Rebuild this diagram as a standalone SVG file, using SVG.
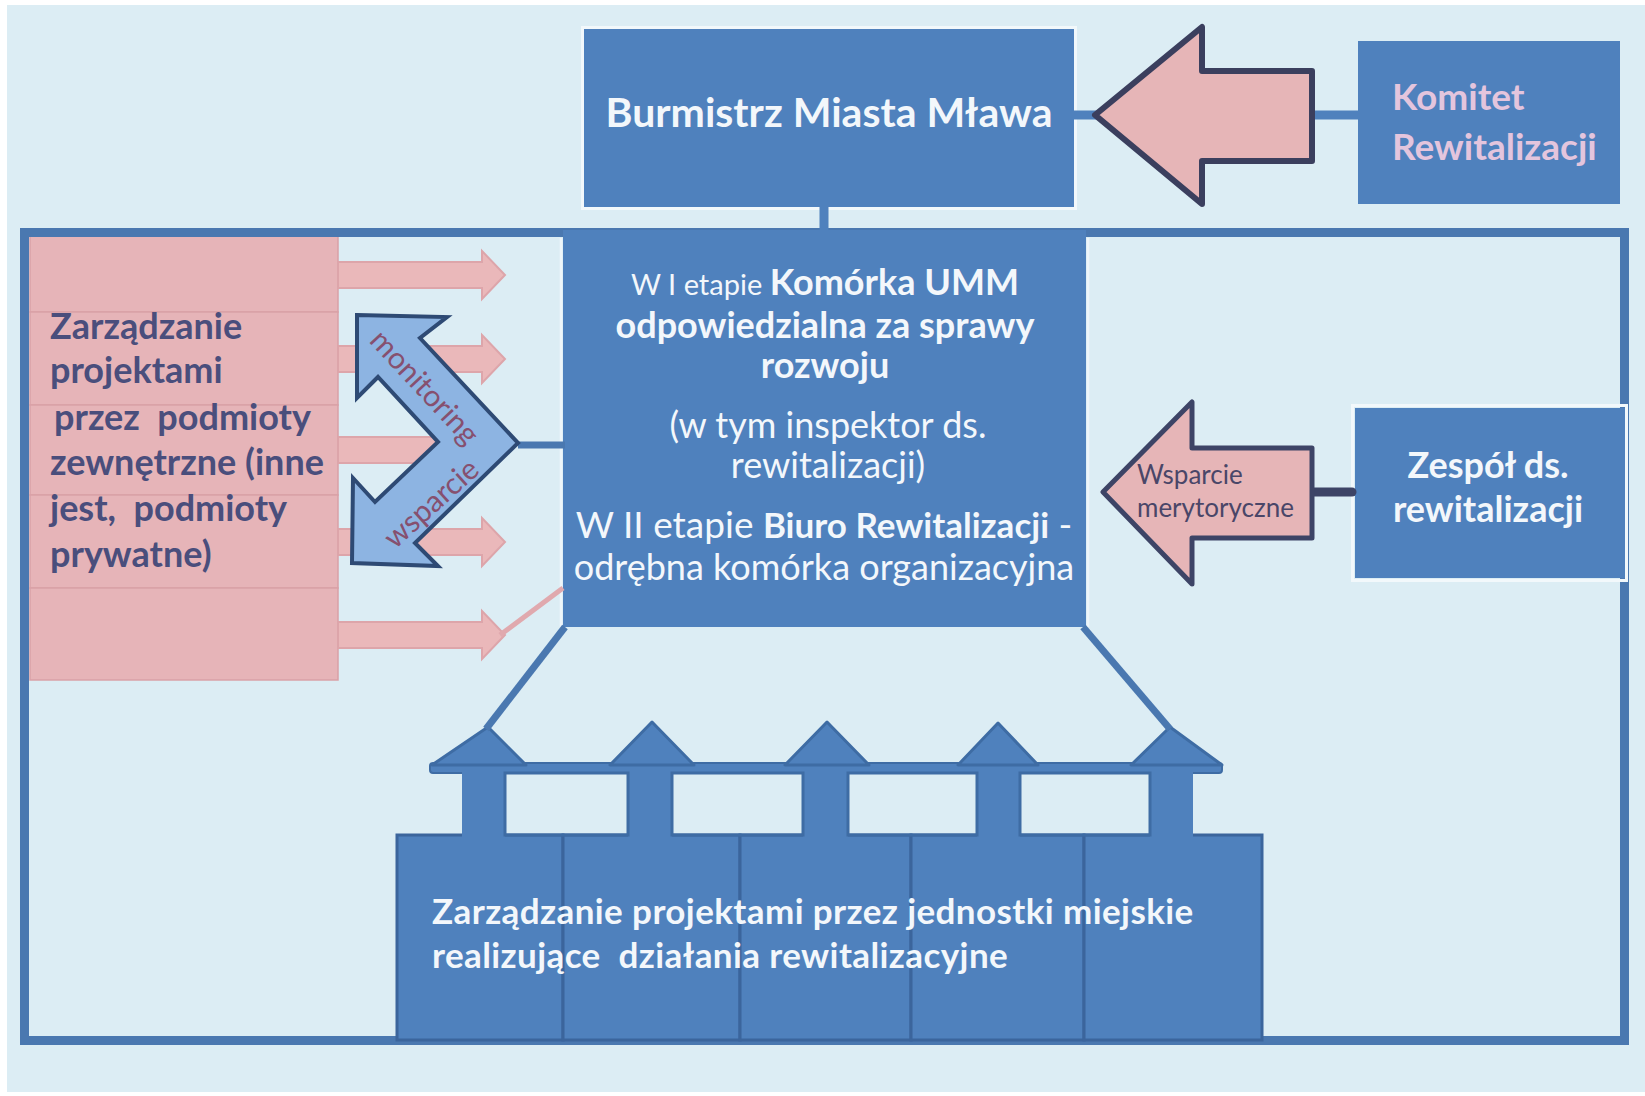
<svg xmlns="http://www.w3.org/2000/svg" width="1645" height="1096" viewBox="0 0 1645 1096">
<defs>
<style>
.box{fill:#4f81bd}
.wt{fill:#f3f7fb;font-family:Lato,"Liberation Sans",sans-serif}
.b{font-weight:bold}
.pinkrow{fill:#e6b4b8;stroke:#d9a1a7;stroke-width:1.5}
.parrow{fill:#eab8ba;stroke:#dda5aa;stroke-width:2}
.navy{fill:#4a4e7c;font-family:Lato,"Liberation Sans",sans-serif;font-weight:bold;font-size:36px}
.upar{fill:#4f81bd;stroke:#3e6ca4;stroke-width:3;stroke-linejoin:round}
.bbox{fill:#4f81bd;stroke:#3b659c;stroke-width:3}
.mon{fill:#86506f;font-family:Lato,"Liberation Sans",sans-serif;font-size:30px}
</style>
</defs>
<rect width="1645" height="1096" fill="#ffffff"/>
<rect x="7" y="5" width="1638" height="1087" fill="#dcedf4"/>

<g id="node-podmioty-zewnetrzne">
<rect class="pinkrow" x="30" y="233" width="308" height="79"/>
<rect class="pinkrow" x="30" y="312" width="308" height="93"/>
<rect class="pinkrow" x="30" y="405" width="308" height="90"/>
<rect class="pinkrow" x="30" y="495" width="308" height="93"/>
<rect class="pinkrow" x="30" y="588" width="308" height="92"/>
<polygon class="parrow" points="338,262 482,262 482,251 505,275 482,299 482,288 338,288"/>
<polygon class="parrow" points="338,346 482,346 482,335 505,359 482,383 482,372 338,372"/>
<polygon class="parrow" points="338,437 482,437 482,426 505,450 482,474 482,463 338,463"/>
<polygon class="parrow" points="338,529 482,529 482,518 505,542 482,566 482,555 338,555"/>
<polygon class="parrow" points="338,622 482,622 482,611 505,635 482,659 482,648 338,648"/>
<text class="navy" x="50" y="339">Zarządzanie</text>
<text class="navy" x="50" y="383">projektami</text>
<text class="navy" x="54" y="430" xml:space="preserve">przez  podmioty</text>
<text class="navy" x="50" y="475">zewnętrzne (inne</text>
<text class="navy" x="50" y="521" xml:space="preserve">jest,  podmioty</text>
<text class="navy" x="50" y="567">prywatne)</text>
</g>

<g id="frame">
<rect x="24.5" y="232.5" width="1600" height="808" fill="none" stroke="#4a78b0" stroke-width="9"/>
</g>

<g id="node-komorka">
<rect class="box" x="563" y="230" width="523" height="397"/>
<line x1="561" y1="238" x2="561" y2="627" stroke="#eef6fa" stroke-width="2.5"/>
<line x1="1088" y1="238" x2="1088" y2="627" stroke="#eef6fa" stroke-width="2.5"/>
<text class="wt" x="825" y="295" text-anchor="middle"><tspan font-size="29">W I etapie </tspan><tspan class="b" font-size="36">Komórka UMM</tspan></text>
<text class="wt b" x="825" y="338" text-anchor="middle" font-size="36">odpowiedzialna za sprawy</text>
<text class="wt b" x="825" y="378" text-anchor="middle" font-size="36">rozwoju</text>
<text class="wt" x="828" y="438" text-anchor="middle" font-size="36">(w tym inspektor ds.</text>
<text class="wt" x="828" y="478" text-anchor="middle" font-size="36">rewitalizacji)</text>
<text class="wt" x="824" y="538" text-anchor="middle" font-size="37"><tspan>W II etapie </tspan><tspan class="b" font-size="35">Biuro Rewitalizacji</tspan><tspan> -</tspan></text>
<text class="wt" x="824" y="580" text-anchor="middle" font-size="36">odrębna komórka organizacyjna</text>
</g>

<g id="node-jednostki-miejskie">
<rect class="bbox" x="397" y="835" width="166" height="205"/>
<rect class="bbox" x="563" y="835" width="177" height="205"/>
<rect class="bbox" x="740" y="835" width="171" height="205"/>
<rect class="bbox" x="911" y="835" width="173" height="205"/>
<rect class="bbox" x="1084" y="835" width="178" height="205"/>
<rect x="430" y="763" width="792" height="10" rx="3" fill="#4f81bd" stroke="#3e6ca4" stroke-width="2"/>
<rect class="box" x="462" y="762" width="43" height="76"/>
<rect class="box" x="628" y="762" width="44" height="76"/>
<rect class="box" x="803" y="762" width="45" height="76"/>
<rect class="box" x="977" y="762" width="43" height="76"/>
<rect class="box" x="1150" y="762" width="43" height="76"/>
<polygon class="upar" points="488,727 432,765 526,765"/>
<polygon class="upar" points="652,722 610,765 694,765"/>
<polygon class="upar" points="827,722 785,765 869,765"/>
<polygon class="upar" points="998,723 958,765 1038,765"/>
<polygon class="upar" points="1170,727 1131,765 1222,765"/>
<g fill="none" stroke="#3e6ca4" stroke-width="3">
<rect x="505" y="773" width="123" height="62"/>
<rect x="672" y="773" width="131" height="62"/>
<rect x="848" y="773" width="129" height="62"/>
<rect x="1020" y="773" width="130" height="62"/>
</g>
<text class="wt b" x="432" y="924" font-size="35" letter-spacing="0.4">Zarządzanie projektami przez jednostki miejskie</text>
<text class="wt b" x="432" y="968" font-size="35" letter-spacing="0.4" xml:space="preserve">realizujące  działania rewitalizacyjne</text>
</g>

<g id="node-burmistrz">
<rect x="582.5" y="27.5" width="493" height="181" fill="none" stroke="#f2f8fb" stroke-width="3"/>
<rect class="box" x="584" y="29" width="490" height="178"/>
<text class="wt b" x="829" y="127" text-anchor="middle" font-size="41">Burmistrz Miasta Mława</text>
</g>

<g id="node-komitet">
<rect class="box" x="1358" y="41" width="262" height="163"/>
<text x="1392" y="110" font-family="Lato,'Liberation Sans',sans-serif" font-weight="bold" font-size="37" fill="#e4c5dd">Komitet</text>
<text x="1392" y="160" font-family="Lato,'Liberation Sans',sans-serif" font-weight="bold" font-size="37" fill="#e4c5dd">Rewitalizacji</text>
</g>

<g id="node-zespol">
<rect x="1352.5" y="405.5" width="274" height="175" fill="none" stroke="#f2f8fb" stroke-width="3"/>
<rect class="box" x="1355" y="408" width="270" height="170"/>
<text class="wt b" x="1488" y="478" text-anchor="middle" font-size="36">Zespół ds.</text>
<text class="wt b" x="1488" y="522" text-anchor="middle" font-size="36">rewitalizacji</text>
</g>

<g id="connectors">
<line x1="824" y1="207" x2="824" y2="231" stroke="#4f81bd" stroke-width="9"/>
<line x1="1070" y1="115" x2="1100" y2="115" stroke="#4f81bd" stroke-width="9"/>
<line x1="1310" y1="115" x2="1360" y2="115" stroke="#4f81bd" stroke-width="9"/>
<polygon points="1095,115 1202,27 1202,71 1312,71 1312,161 1202,161 1202,204" fill="#e6b5b7" stroke="#3b3f5e" stroke-width="6" stroke-linejoin="round"/>
<line x1="1312" y1="492" x2="1352" y2="492" stroke="#3d4466" stroke-width="9" stroke-linecap="round"/>
<polygon points="1103,492 1192,402 1192,448 1312,448 1312,538 1192,538 1192,584" fill="#e6b5b7" stroke="#3d4466" stroke-width="5" stroke-linejoin="round"/>
<text x="1137" y="484" font-family="Lato,'Liberation Sans',sans-serif" font-size="26" fill="#4a4668">Wsparcie</text>
<text x="1137" y="517" font-family="Lato,'Liberation Sans',sans-serif" font-size="26" fill="#4a4668">merytoryczne</text>
<line x1="500" y1="635" x2="563" y2="588" stroke="#e0a9ae" stroke-width="5"/>
<line x1="518" y1="445" x2="565" y2="445" stroke="#4a78b0" stroke-width="7"/>
<polygon points="357,315 447,317 420,338 518,443 415,543 438,566 352,563 353,478 375,502 438,442 378,377 357,398" fill="#8db4e2" stroke="#2e4a74" stroke-width="4" stroke-linejoin="miter"/>
<text class="mon" x="426" y="386" text-anchor="middle" dominant-baseline="central" transform="rotate(47 426 386)">monitoring</text>
<text class="mon" x="430" y="502" text-anchor="middle" dominant-baseline="central" transform="rotate(-42 430 502)">wsparcie</text>
<line x1="565" y1="627" x2="486" y2="729" stroke="#4a78b0" stroke-width="7"/>
<line x1="1083" y1="627" x2="1170" y2="729" stroke="#4a78b0" stroke-width="7"/>
</g>
</svg>
